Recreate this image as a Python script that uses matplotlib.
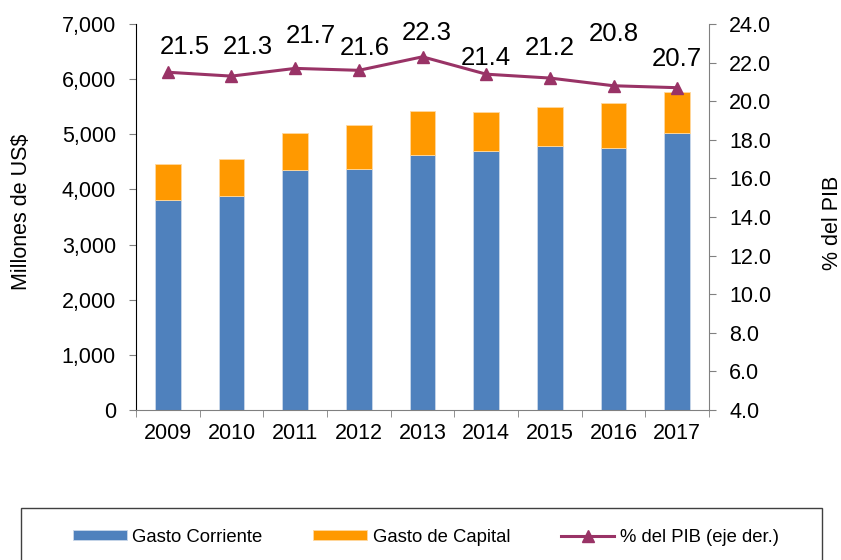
import matplotlib.pyplot as plt
import numpy as np
from matplotlib.patches import Rectangle
from matplotlib.ticker import FuncFormatter, FixedLocator

plt.rcParams['font.family'] = ['Liberation Sans', 'DejaVu Sans']

# data (millones de US$ and % del PIB)
years = ['2009', '2010', '2011', '2012', '2013', '2014', '2015', '2016', '2017']
gasto_corriente = [3808, 3881, 4347, 4371, 4625, 4703, 4782, 4757, 5029]
gasto_capital = [653, 677, 671, 792, 798, 696, 708, 816, 738]
pct_pib = [21.5, 21.3, 21.7, 21.6, 22.3, 21.4, 21.2, 20.8, 20.7]

# label offsets in pixels (dx, dy) from each point, as placed in the original
label_offsets = [(17, 25), (16, 29), (16, 32), (6, 22), (4, 24),
                 (0, 16), (0, 30), (0, 52), (0, 29)]

BLUE = '#4F81BD'
ORANGE = '#FF9900'
PLUM = '#993366'
FS = 15.5

fig = plt.figure(figsize=(8.41, 5.6), dpi=100)
ax = fig.add_axes([136 / 841, 1 - 410 / 560, 573 / 841, 386 / 560])
ax2 = ax.twinx()

x = np.arange(len(years))
ax.bar(x, gasto_corriente, width=0.4, color=BLUE, edgecolor='#c9d7ea',
       linewidth=0.6, label='Gasto Corriente', zorder=2)
ax.bar(x, gasto_capital, width=0.4, bottom=gasto_corriente, color=ORANGE,
       edgecolor='#ffd9a0', linewidth=0.6, label='Gasto de Capital', zorder=2)

ax2.plot(x, pct_pib, color=PLUM, lw=2.2, marker='^', ms=8,
         label='% del PIB (eje der.)', zorder=3)
px = 72 / fig.dpi
for xi, v, (dx, dy) in zip(x, pct_pib, label_offsets):
    ax2.annotate(f'{v:.1f}', (xi, v), xytext=(dx * px, dy * px),
                 textcoords='offset points', ha='center', va='center',
                 fontsize=18.5)

# left axis
ax.set_xlim(-0.5, len(years) - 0.5)
ax.set_ylim(0, 7000)
ax.set_yticks(np.arange(0, 7001, 1000))
ax.yaxis.set_major_formatter(FuncFormatter(lambda v, p: f'{int(v):,}'))
ax.tick_params(axis='y', labelsize=FS, length=5, pad=9.5, color='#808080')
ax.set_xticks(x)
ax.set_xticklabels(years)
ax.xaxis.set_minor_locator(FixedLocator(np.arange(-0.5, len(years), 1)))
ax.tick_params(axis='x', which='major', length=0, labelsize=FS, pad=9.5)
ax.tick_params(axis='x', which='minor', length=5, color='#808080')

# right axis
ax2.set_ylim(4, 24)
ax2.set_yticks(np.arange(4, 24.1, 2))
ax2.yaxis.set_major_formatter(FuncFormatter(lambda v, p: f'{v:.1f}'))
ax2.tick_params(axis='y', labelsize=FS, length=5, pad=9.5, color='#808080')

for a in (ax, ax2):
    a.spines['top'].set_visible(False)
ax.spines['right'].set_visible(False)
ax.spines['left'].set_color('black')
ax.spines['bottom'].set_color('#808080')
ax2.spines['left'].set_visible(False)
ax2.spines['bottom'].set_visible(False)
ax2.spines['right'].set_color('#808080')

fig.text(22 / 841, 1 - 212 / 560, 'Millones de US$', rotation=90,
         ha='center', va='center', fontsize=FS)
fig.text(832 / 841, 1 - 223 / 560, '% del PIB', rotation=90,
         ha='center', va='center', fontsize=FS)

# legend box running off the bottom edge
fig.patches.append(Rectangle((21 / 841, -0.02), 801 / 841, (560 - 508) / 560 + 0.02,
                             transform=fig.transFigure, fill=False,
                             edgecolor='#404040', lw=1))
h1, l1 = ax.get_legend_handles_labels()
h2, l2 = ax2.get_legend_handles_labels()
fig.legend(h1 + h2, l1 + l2, loc='center left', ncol=3,
           bbox_to_anchor=(64 / 841, 1 - 537 / 560), frameon=False,
           fontsize=13.3, handlelength=2.9, handleheight=0.5,
           handletextpad=0.3, columnspacing=2.75, borderpad=0)

fig.savefig('out.png', dpi=100)
